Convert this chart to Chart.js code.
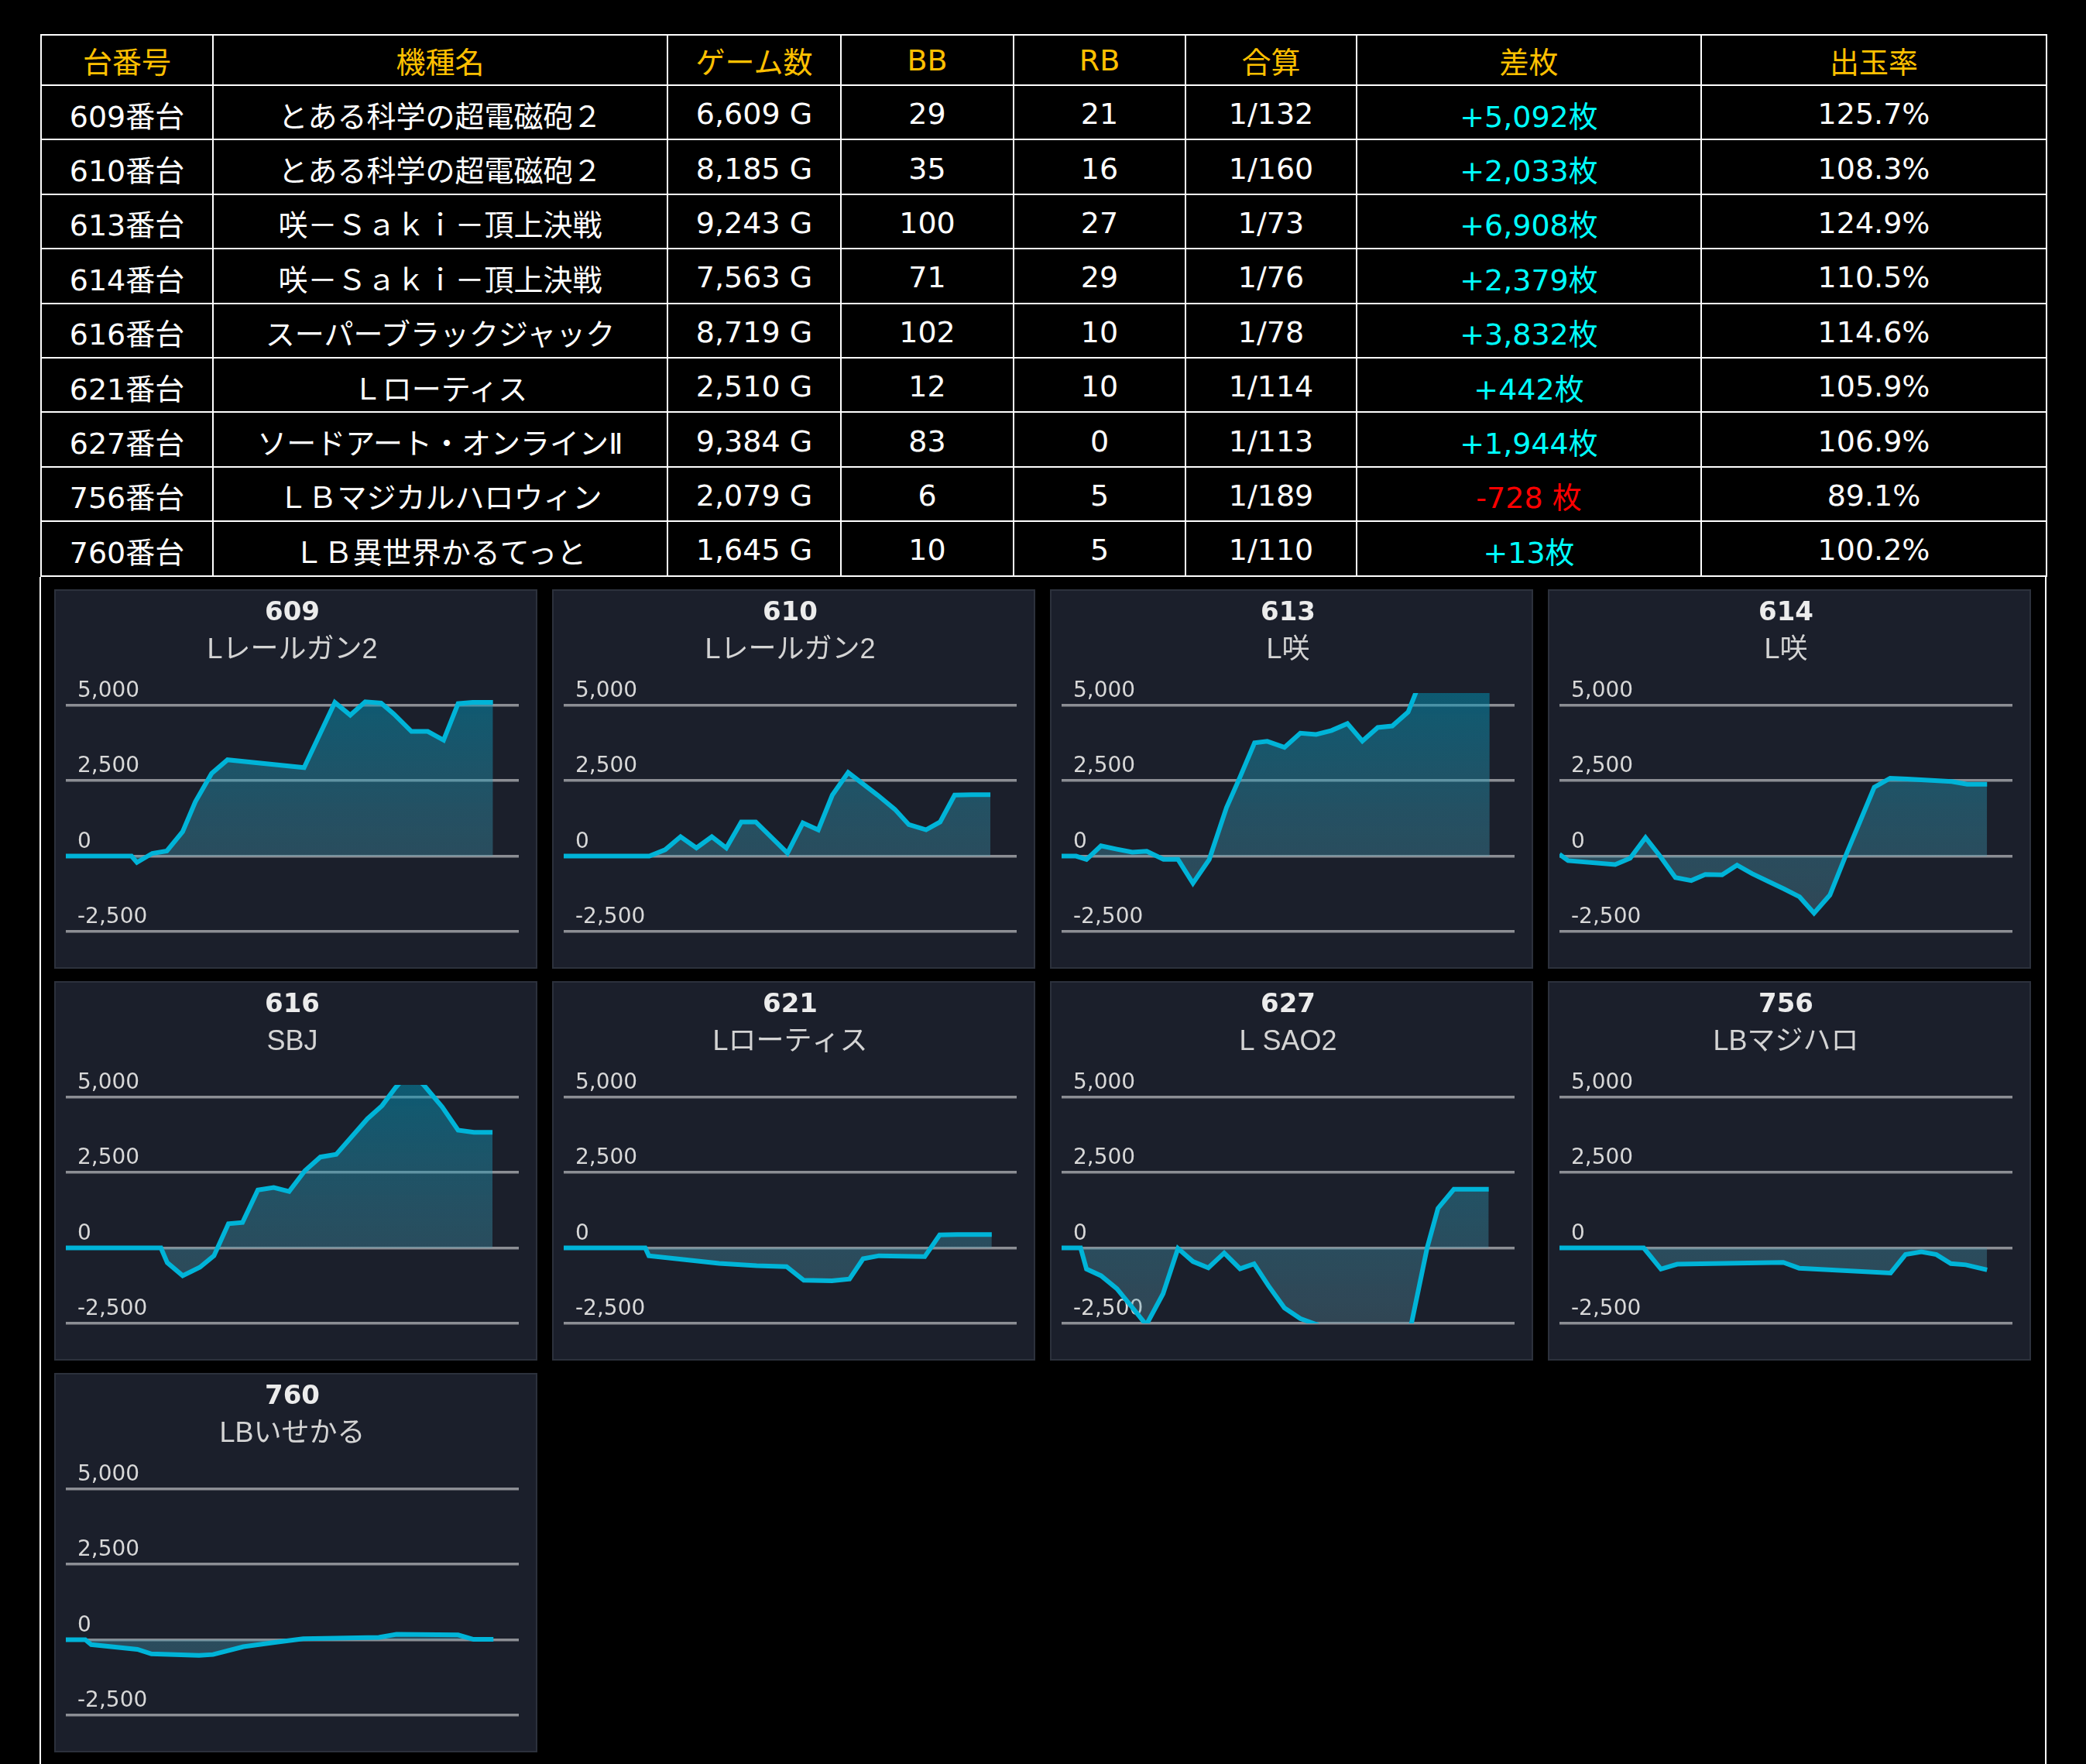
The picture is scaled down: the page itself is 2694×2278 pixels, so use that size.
<!DOCTYPE html>
<html lang="ja">
<head>
<meta charset="utf-8">
<title>差枚グラフ</title>
<script src="https://cdn.jsdelivr.net/npm/chart.js@4.4.1/dist/chart.umd.min.js"></script>
<style>
  html, body { margin: 0; padding: 0; background: #000; }
  body { width: 2694px; height: 2278px; overflow: hidden; position: relative; }
  #wrap {
    position: absolute; left: 52px; top: 44px; width: 2592px;
  }
  table {
    border-collapse: collapse; table-layout: fixed; width: 2590px;
    font-family: "DejaVu Sans", "Noto Sans CJK JP", sans-serif; font-size: 38px;
    color: #fff;
  }
  th, td { border: 2px solid #fff; text-align: center; padding: 0; white-space: nowrap; overflow: hidden; }
  th { color: #ffc000; font-weight: normal; height: 63px; }
  td { height: 64.4px; padding-top: 4px; }
  td.plus { color: #00ffff; }
  td.minus { color: #ff0000; }
  #grid {
    border-left: 2px solid #fff; border-right: 2px solid #fff;
    margin-left: -1px; width: 2592px; height: 1600px;
    box-sizing: border-box;
    padding: 16px 0 0 17px;
    display: grid; grid-template-columns: repeat(4, 624px);
    grid-auto-rows: 490px; column-gap: 19px; row-gap: 16px;
  }
  .panel {
    box-sizing: border-box; width: 624px; height: 490px;
    background: #1b1f2b; border: 2px solid #2c313c; position: relative;
  }
  .panel canvas { display: block; }
</style>
</head>
<body>
<div id="wrap">
  <table id="tbl">
    <colgroup>
      <col style="width:222px"><col style="width:587px"><col style="width:224px"><col style="width:223px">
      <col style="width:222px"><col style="width:221px"><col style="width:445px"><col style="width:446px">
    </colgroup>
    <thead></thead>
    <tbody></tbody>
  </table>
  <div id="grid"></div>
</div>
<script>
// table data
const headers = ['台番号', '機種名', 'ゲーム数', 'BB', 'RB', '合算', '差枚', '出玉率'];
const machineNos = [609, 610, 613, 614, 616, 621, 627, 756, 760];
const machineNames = [
  'とある科学の超電磁砲２', 'とある科学の超電磁砲２', '咲－Ｓａｋｉ－頂上決戦', '咲－Ｓａｋｉ－頂上決戦',
  'スーパーブラックジャック', 'Ｌローティス', 'ソードアート・オンラインⅡ', 'ＬＢマジカルハロウィン', 'ＬＢ異世界かるてっと'
];
const games = [6609, 8185, 9243, 7563, 8719, 2510, 9384, 2079, 1645];
const bbCounts = [29, 35, 100, 71, 102, 12, 83, 6, 10];
const rbCounts = [21, 16, 27, 29, 10, 10, 0, 5, 5];
const combined = ['1/132', '1/160', '1/73', '1/76', '1/78', '1/114', '1/113', '1/189', '1/110'];
const diffs = [5092, 2033, 6908, 2379, 3832, 442, 1944, -728, 13];
const payoutRates = ['125.7%', '108.3%', '124.9%', '110.5%', '114.6%', '105.9%', '106.9%', '89.1%', '100.2%'];

// chart data: [progress of the day (%), 差枚]
const shortNames = ['Lレールガン2', 'Lレールガン2', 'L咲', 'L咲', 'SBJ', 'Lローティス', 'L SAO2', 'LBマジハロ', 'LBいせかる'];
const s609 = [[0,0],[14.5,0],[15.7,-210],[19.1,90],[22.3,170],[25.8,810],[28.6,1800],[32.2,2740],[35.7,3190],[52.6,2930],[59.4,5090],[62.8,4670],[66.1,5110],[69.6,5070],[72.4,4710],[76.3,4130],[79.9,4130],[83.4,3840],[86.6,5050],[89.8,5092],[94.3,5092]];
const s610 = [[0,0],[18.9,0],[22.4,210],[25.8,640],[29.3,270],[32.7,640],[35.9,270],[39.2,1130],[42.4,1130],[49.4,100],[52.8,1100],[56.2,870],[59.3,2020],[62.8,2770],[69.3,2020],[73.1,1550],[76.2,1040],[80.0,870],[83.1,1130],[86.3,2020],[90.1,2033],[94.2,2033]];
const s613 = [[0,0],[3.2,0],[5.5,-110],[8.7,340],[12.2,230],[15.6,130],[18.8,160],[22.5,-110],[25.7,-110],[29.0,-900],[32.6,-110],[36.4,1600],[39.4,2620],[42.6,3750],[45.4,3800],[49.2,3600],[52.7,4070],[56.2,4030],[59.6,4160],[63.1,4390],[66.4,3810],[69.8,4260],[73.0,4310],[76.5,4770],[79.5,5900],[83.0,6400],[87.0,6700],[91.0,7000],[94.5,6908]];
const s614 = [[0,60],[1.9,-150],[12.3,-280],[15.6,-70],[19.0,610],[22.1,20],[25.6,-710],[29.1,-810],[32.2,-610],[35.9,-620],[39.2,-300],[42.5,-580],[46.1,-840],[49.6,-1090],[53.0,-1350],[56.2,-1890],[59.7,-1290],[63.2,20],[66.3,1130],[69.5,2280],[73.0,2580],[76.8,2550],[86.6,2470],[90.0,2379],[94.4,2379]];
const s616 = [[0,0],[21.0,0],[22.4,-490],[25.8,-920],[29.6,-640],[32.7,-260],[35.9,800],[39.0,840],[42.4,1920],[45.9,2000],[49.3,1870],[52.8,2560],[56.2,3010],[59.7,3100],[63.1,3680],[66.6,4280],[69.8,4710],[72.8,5310],[74.5,5600],[77.5,5600],[79.0,5400],[83.1,4670],[86.6,3900],[90.1,3832],[94.2,3832]];
const s621 = [[0,0],[18.0,0],[18.8,-260],[26.0,-380],[34.3,-510],[42.6,-590],[49.2,-620],[53.0,-1070],[59.2,-1090],[63.1,-1030],[66.1,-360],[69.6,-260],[79.7,-290],[83.0,430],[86.9,442],[94.5,442]];
const s627 = [[0,0],[4.2,0],[5.5,-700],[8.7,-920],[12.2,-1350],[15.7,-1990],[18.7,-2550],[22.4,-1520],[25.7,-20],[29.0,-450],[32.4,-660],[35.9,-170],[39.4,-690],[42.5,-530],[45.7,-1260],[49.2,-1990],[52.7,-2340],[56.2,-2530],[62.0,-2900],[68.0,-3100],[74.0,-2900],[77.2,-2530],[80.7,0],[83.1,1310],[86.6,1944],[94.3,1944]];
const s756 = [[0,0],[18.6,0],[22.4,-700],[26.0,-540],[49.4,-480],[52.9,-670],[73.1,-830],[76.4,-220],[79.9,-130],[83.2,-220],[86.4,-520],[89.7,-560],[94.4,-728]];
const s760 = [[0,0],[4.3,0],[5.6,-160],[15.8,-320],[18.9,-470],[29.4,-520],[32.5,-490],[39.2,-230],[46.1,-90],[52.4,30],[69.1,80],[73.0,180],[86.6,160],[90.0,13],[94.4,13]];
const seriesList = [s609, s610, s613, s614, s616, s621, s627, s756, s760];

const yTicks = [-2500, 0, 2500, 5000];
const yMin = -2500, yMax = 5400;

const fmt = n => n.toLocaleString('en-US');

function buildTable() {
    const thead = document.querySelector('#tbl thead');
    const tbody = document.querySelector('#tbl tbody');
    thead.innerHTML = '<tr>' + headers.map(h => `<th>${h}</th>`).join('') + '</tr>';

    machineNos.forEach((no, i) => {
        const d = diffs[i];
        const diffText = d >= 0 ? `+${fmt(d)}枚` : `${fmt(d)} 枚`;
        const tr = document.createElement('tr');
        tr.innerHTML = [
            `<td>${no}番台</td>`,
            `<td>${machineNames[i]}</td>`,
            `<td>${fmt(games[i])} G</td>`,
            `<td>${bbCounts[i]}</td>`,
            `<td>${rbCounts[i]}</td>`,
            `<td>${combined[i]}</td>`,
            `<td class="${d >= 0 ? 'plus' : 'minus'}">${diffText}</td>`,
            `<td>${payoutRates[i]}</td>`,
        ].join('');
        tbody.appendChild(tr);
    });
}

function fillGradient(context) {
    const { ctx, chartArea } = context.chart;
    if (!chartArea) return 'rgba(0,150,185,0.4)';
    const g = ctx.createLinearGradient(0, chartArea.top, 0, chartArea.bottom);
    g.addColorStop(0, 'rgba(0,150,185,0.5)');
    g.addColorStop(1, 'rgba(100,160,180,0.3)');
    return g;
}

function buildChart(i) {
    const panel = document.createElement('div');
    panel.className = 'panel';
    const canvas = document.createElement('canvas');
    panel.appendChild(canvas);
    document.getElementById('grid').appendChild(panel);

    new Chart(canvas, {
        type: 'line',
        data: {
            datasets: [{
                data: seriesList[i].map(p => ({ x: p[0], y: p[1] })),
                borderColor: '#00b4d8',
                borderWidth: 6,
                backgroundColor: fillGradient,
                fill: 'origin',
                pointRadius: 0,
                tension: 0,
            }],
        },
        options: {
            responsive: true,
            maintainAspectRatio: false,
            animation: false,
            layout: { padding: { left: 13, right: 22, top: 0, bottom: 46 } },
            plugins: {
                legend: { display: false },
                tooltip: { enabled: false },
                title: {
                    display: true,
                    text: String(machineNos[i]),
                    color: '#ececec',
                    font: { family: '"DejaVu Sans", sans-serif', size: 34, weight: 'bold' },
                    padding: { top: 9, bottom: 3 },
                },
                subtitle: {
                    display: true,
                    text: shortNames[i],
                    color: '#d4d4d4',
                    font: { family: '"Liberation Sans", "Noto Sans CJK JP", sans-serif', size: 36 },
                    padding: { top: 3, bottom: 33 },
                },
            },
            scales: {
                x: { type: 'linear', min: 0, max: 100, display: false },
                y: {
                    min: yMin,
                    max: yMax,
                    afterFit: scale => { scale.width = 0; },
                    afterBuildTicks: scale => { scale.ticks = yTicks.map(v => ({ value: v })); },
                    border: { display: false },
                    grid: { color: '#8c8e94', lineWidth: 3.5, drawTicks: false },
                    ticks: {
                        mirror: true,
                        padding: 15,
                        labelOffset: -18,
                        color: '#d8d8d8',
                        font: { family: '"DejaVu Sans", sans-serif', size: 28 },
                        callback: v => fmt(v),
                    },
                },
            },
        },
    });
}

buildTable();
machineNos.forEach((_, i) => buildChart(i));
</script>
</body>
</html>
